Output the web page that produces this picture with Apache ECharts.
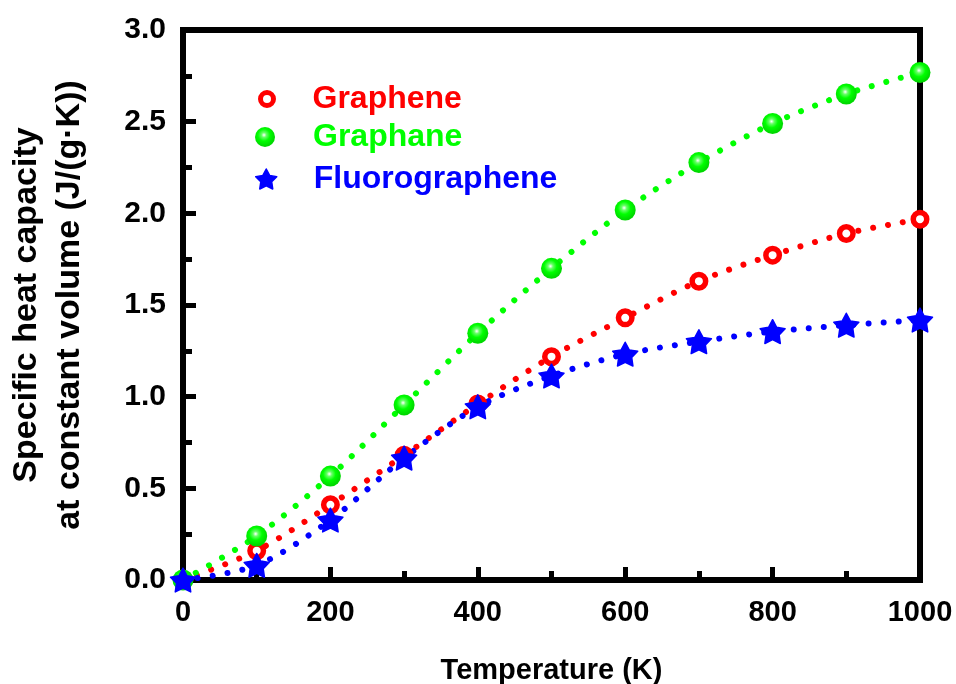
<!DOCTYPE html>
<html>
<head>
    <meta charset="utf-8">
    <title>Specific heat capacity</title>
    <script src="https://cdn.jsdelivr.net/npm/echarts@6/dist/echarts.min.js"></script>
    <style>
        html, body { margin: 0; padding: 0; background: #fff; }
        #main { width: 956px; height: 684px; }
    </style>
</head>
<body>
    <div id="main"></div>
    <script>
        // data
        var temps = [0, 100, 200, 300, 400, 500, 600, 700, 800, 900, 1000];
        var graphene = [0, 0.16, 0.41, 0.68, 0.96, 1.218, 1.43, 1.63, 1.772, 1.89, 1.968];
        var graphane = [0, 0.24, 0.567, 0.955, 1.346, 1.70, 2.018, 2.277, 2.49, 2.651, 2.768];
        var fluoro = [0, 0.08, 0.327, 0.665, 0.945, 1.113, 1.232, 1.30, 1.355, 1.39, 1.418];

        var FONT = 'Liberation Sans, Arial, sans-serif';
        var STAR = 'path://M50 0 L65.3 29 L97.6 34.5 L74.7 58 L79.4 90.5 L50 76 L20.6 90.5 L25.3 58 L2.4 34.5 L34.7 29 Z';

        function pairs(ys) {
            return temps.map(function (t, i) { return [t, ys[i]]; });
        }

        var greenBall = new echarts.graphic.RadialGradient(0.45, 0.4, 0.55, [
            { offset: 0, color: '#ffffff' },
            { offset: 0.22, color: '#66ff66' },
            { offset: 0.55, color: '#00ff00' },
            { offset: 1, color: '#00d800' }
        ]);

        var dotted = function (c) {
            return { color: c, width: 6, type: [0.01, 15], cap: 'round' };
        };

        function axisParts() {
            return {
                axisLine: { show: true, lineStyle: { color: '#000', width: 6 } },
                axisTick: { show: true, inside: true, length: 13, lineStyle: { color: '#000', width: 5 } },
                minorTick: { show: true, splitNumber: 2, length: 9, lineStyle: { color: '#000', width: 5 } },
                splitLine: { show: false }
            };
        }

        var myChart = echarts.init(document.getElementById('main'));
        var xAxis = Object.assign({
            type: 'value', min: 0, max: 1000, interval: 200,
            name: 'Temperature (K)', nameLocation: 'middle', nameGap: 76,
            nameTextStyle: { color: '#000', fontSize: 29, fontWeight: 'bold', fontFamily: FONT },
            axisLabel: {
                color: '#000', fontSize: 29, fontWeight: 'bold', fontFamily: FONT, margin: 18,
                formatter: function (v) { return String(v); }
            }
        }, axisParts());
        var yAxis = Object.assign({
            type: 'value', min: 0, max: 3, interval: 0.5,
            name: 'Specific heat capacity\nat constant volume (J/(g\u00b7K))',
            nameLocation: 'middle', nameGap: 92,
            nameTextStyle: { color: '#000', fontSize: 34, fontWeight: 'bold', fontFamily: FONT, lineHeight: 43 },
            axisLabel: {
                color: '#000', fontSize: 30, fontWeight: 'bold', fontFamily: FONT, margin: 17,
                formatter: function (v) { return v.toFixed(1); }
            }
        }, axisParts());

        var option = {
            backgroundColor: '#fff',
            animation: false,
            grid: {
                left: 183, right: 36, top: 30, bottom: 104,
                show: true, borderColor: '#000', borderWidth: 6,
                outerBoundsMode: 'none'
            },
            legend: [
                {
                    data: ['Graphene'], orient: 'vertical', left: 258, top: 83, padding: 0,
                    icon: 'circle', itemWidth: 13, itemHeight: 13,
                    itemStyle: { color: '#fff', borderColor: '#ff0000', borderWidth: 5 },
                    textStyle: { color: '#ff0000', fontSize: 32, fontWeight: 'bold', fontFamily: FONT, padding: [0, 0, 0, 34] }
                },
                {
                    data: ['Graphane'], orient: 'vertical', left: 255, top: 121, padding: 0,
                    icon: 'circle', itemWidth: 20, itemHeight: 20,
                    itemStyle: { color: greenBall, borderWidth: 0 },
                    textStyle: { color: '#00ff00', fontSize: 32, fontWeight: 'bold', fontFamily: FONT, padding: [0, 0, 0, 33] }
                },
                {
                    data: ['Fluorographene'], orient: 'vertical', left: 255, top: 163, padding: 0,
                    icon: STAR, itemWidth: 21, itemHeight: 20,
                    itemStyle: { color: '#0000ff', borderColor: '#0000ff', borderWidth: 1.5, borderJoin: 'round' },
                    textStyle: { color: '#0000ff', fontSize: 32, fontWeight: 'bold', fontFamily: FONT, padding: [0, 0, 0, 32] }
                }
            ],
            xAxis: xAxis,
            yAxis: yAxis,
            series: [
                {
                    name: 'Graphene', type: 'line', data: pairs(graphene),
                    smooth: 0.3, clip: false,
                    symbol: 'circle', symbolSize: 13.5,
                    itemStyle: { color: '#fff', borderColor: '#ff0000', borderWidth: 5.5 },
                    lineStyle: dotted('#ff0000')
                },
                {
                    name: 'Graphane', type: 'line', data: pairs(graphane),
                    smooth: 0.3, clip: false,
                    symbol: 'circle', symbolSize: 21,
                    itemStyle: { color: greenBall, borderWidth: 0 },
                    lineStyle: dotted('#00ff00')
                },
                {
                    name: 'Fluorographene', type: 'line', data: pairs(fluoro),
                    smooth: 0.3, clip: false,
                    symbol: STAR, symbolSize: 25, symbolKeepAspect: true,
                    itemStyle: { color: '#0000ff', borderColor: '#0000ff', borderWidth: 1.5, borderJoin: 'round' },
                    lineStyle: dotted('#0000ff')
                }
            ]
        };
        myChart.setOption(option);
    </script>
</body>
</html>
